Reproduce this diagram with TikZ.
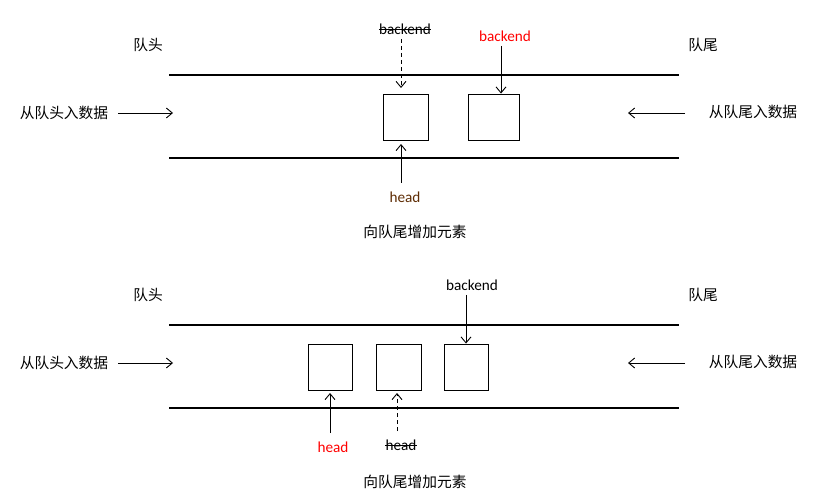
\documentclass[tikz,border=0pt]{standalone}
\usepackage{fontspec}
\setmainfont{Carlito}
\newfontfamily\cjk{Noto Sans CJK SC}
\usetikzlibrary{arrows.meta}
\definecolor{brn}{RGB}{95,45,5}
\definecolor{rd}{RGB}{255,0,0}
\begin{document}
\begin{tikzpicture}[x=1bp,y=-1bp,
  cn/.style={font=\cjk\fontsize{14.8}{16}\selectfont, inner sep=0pt, anchor=center},
  lt/.style={font=\fontsize{15.3}{17}\selectfont, inner sep=0pt, anchor=center},
  rail/.style={line width=2bp},
  cell/.style={draw, line width=0.9bp, inner sep=0pt},
  arr/.style={line width=0.9bp, -{Straight Barb[length=6bp,width=10bp,line width=0.9bp]}},
  darr/.style={arr, dashed, dash pattern=on 4bp off 3bp}]
\useasboundingbox (0,0) rectangle (821,498);
\fill[white] (0,0) rectangle (821,498);

% ---------- panel 1 ----------
\node[cn] (qt1) at (148,45) {队头};
\node[cn] (qw1) at (703,45) {队尾};
\coordinate (t1l) at (169,75); \coordinate (t1r) at (679,75);
\coordinate (b1l) at (169,158); \coordinate (b1r) at (679,158);
\draw[rail] (t1l) -- (t1r);
\draw[rail] (b1l) -- (b1r);
\node[cn] (inl1) at (64,113) {从队头入数据};
\node[cn] (inr1) at (753,112) {从队尾入数据};
\coordinate (al1s) at (118,113); \coordinate (al1e) at (173,113);
\coordinate (ar1s) at (685,113); \coordinate (ar1e) at (628,113);
\draw[arr] (al1s) -- (al1e);
\draw[arr] (ar1s) -- (ar1e);
\node[cell, minimum width=45bp, minimum height=46bp] (a1) at (405.5,117) {};
\node[cell, minimum width=51bp, minimum height=46bp] (b1) at (493.5,117) {};
\node[lt] (beo1) at (405,29) {backend};
\draw[line width=0.8bp] ([yshift=-0.5bp]beo1.west) -- ([yshift=-0.5bp]beo1.east);
\node[lt, text=rd] (ben1) at (505,36) {backend};
\coordinate (d1s) at (401,39); \coordinate (d1e) at (401,88);
\draw[darr] (d1s) -- (d1e);
\coordinate (n1s) at (501,46);
\draw[arr] (n1s) -- (n1s |- b1.north);
\node[lt, text=brn] (h1) at (405,197) {head};
\coordinate (h1s) at (401,183); \coordinate (h1e) at (401,144);
\draw[arr] (h1s) -- (h1e);
\node[cn] (cap1) at (415,232) {向队尾增加元素};

% ---------- panel 2 ----------
\node[cn] (qt2) at (148,295) {队头};
\node[cn] (qw2) at (703,295) {队尾};
\coordinate (t2l) at (169,325); \coordinate (t2r) at (679,325);
\coordinate (b2l) at (169,408); \coordinate (b2r) at (679,408);
\draw[rail] (t2l) -- (t2r);
\draw[rail] (b2l) -- (b2r);
\node[cn] (inl2) at (64,363) {从队头入数据};
\node[cn] (inr2) at (753,362) {从队尾入数据};
\coordinate (al2s) at (118,363); \coordinate (al2e) at (173,363);
\coordinate (ar2s) at (685,363); \coordinate (ar2e) at (628,363);
\draw[arr] (al2s) -- (al2e);
\draw[arr] (ar2s) -- (ar2e);
\node[cell, minimum width=44bp, minimum height=46bp] (c2) at (330,367) {};
\node[cell, minimum width=45bp, minimum height=46bp] (d2) at (398.5,367) {};
\node[cell, minimum width=44bp, minimum height=46bp] (e2) at (466,367) {};
\node[lt] (be2) at (472,285) {backend};
\coordinate (be2s) at (466,295);
\draw[arr] (be2s) -- (be2s |- e2.north);
\node[lt, text=rd] (hn2) at (333,447) {head};
\coordinate (hn2s) at (330,433); \coordinate (hn2e) at (330,393);
\draw[arr] (hn2s) -- (hn2e);
\node[lt] (ho2) at (401,445) {head};
\draw[line width=0.8bp] ([yshift=-0.5bp]ho2.west) -- ([yshift=-0.5bp]ho2.east);
\coordinate (ho2s) at (397,431); \coordinate (ho2e) at (397,393);
\draw[darr] (ho2s) -- (ho2e);
\node[cn] (cap2) at (415,482) {向队尾增加元素};
\end{tikzpicture}
\end{document}
